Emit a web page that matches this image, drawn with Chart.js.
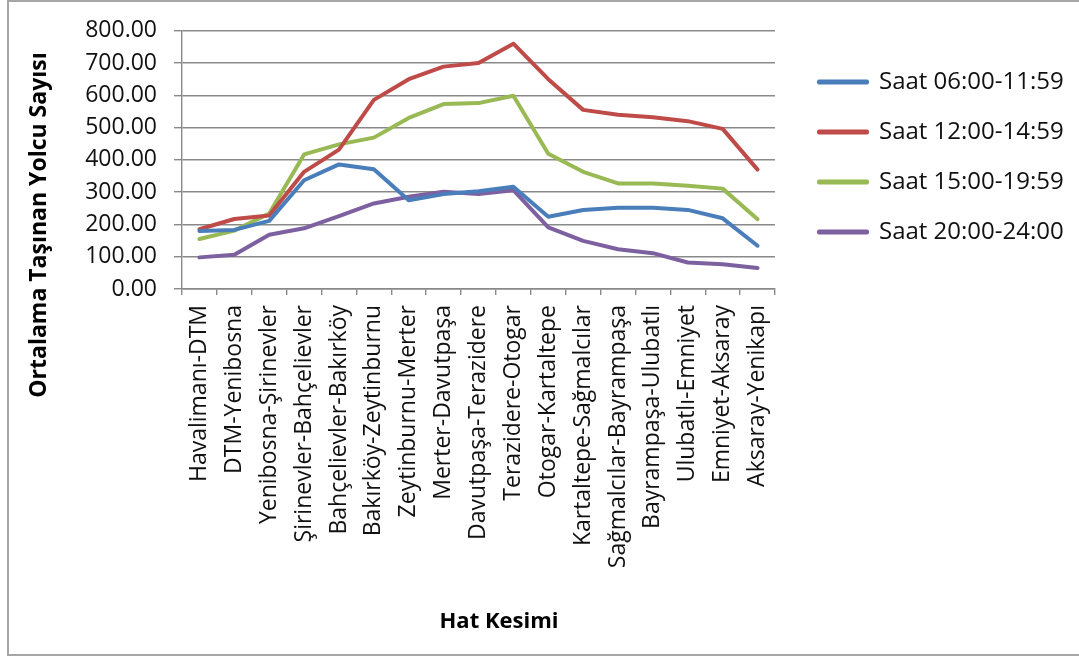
<!DOCTYPE html>
<html>
<head>
<meta charset="utf-8">
<script src="https://cdn.jsdelivr.net/npm/chart.js@4"></script>
<style>
  html, body { margin: 0; padding: 0; background: #fff; overflow: hidden; }
  #frame { position: absolute; left: 7px; top: 0; width: 1100px; height: 652px; border: 2px solid #a6a6a6; border-right: none; }
  #wrap { position: absolute; left: 0; top: 0; width: 1079px; height: 657px; }
</style>
</head>
<body>
<div id="frame"></div>
<div id="wrap"><canvas id="chart"></canvas></div>
<script>
// --- data ---
const categories = [
  "Havalimanı-DTM", "DTM-Yenibosna", "Yenibosna-Şirinevler", "Şirinevler-Bahçelievler",
  "Bahçelievler-Bakırköy", "Bakırköy-Zeytinburnu", "Zeytinburnu-Merter", "Merter-Davutpaşa",
  "Davutpaşa-Terazidere", "Terazidere-Otogar", "Otogar-Kartaltepe", "Kartaltepe-Sağmalcılar",
  "Sağmalcılar-Bayrampaşa", "Bayrampaşa-Ulubatlı", "Ulubatlı-Emniyet", "Emniyet-Aksaray",
  "Aksaray-Yenikapı"
];
const seriesNames = ["Saat 06:00-11:59", "Saat 12:00-14:59", "Saat 15:00-19:59", "Saat 20:00-24:00"];
const morning = [180, 183, 211, 337, 386, 371, 275, 294, 303, 317, 224, 245, 252, 252, 245, 219, 134];
const noon    = [185, 217, 228, 363, 432, 586, 650, 689, 700, 760, 650, 555, 540, 532, 520, 496, 370];
const evening = [155, 181, 234, 417, 448, 469, 530, 573, 576, 599, 419, 363, 327, 327, 320, 311, 216];
const night   = [98, 106, 168, 188, 226, 265, 286, 301, 294, 306, 191, 149, 123, 111, 82, 77, 65];
const yTickValues = [0, 100, 200, 300, 400, 500, 600, 700, 800];
const yTitle = "Ortalama Taşınan Yolcu Sayısı";
const xTitle = "Hat Kesimi";

const colors = ["#4a7ebb", "#be4b48", "#98b954", "#7d60a0"];
const gridColor = "#898989";

Chart.defaults.font.family = "'Open Sans', sans-serif";
Chart.defaults.color = "#111";

// axis titles sit where Excel put them, not where Chart.js centres them
const axisTitles = {
  id: "axisTitles",
  afterDraw(chart) {
    const { ctx } = chart;
    ctx.save();
    ctx.fillStyle = "#000";
    ctx.textAlign = "center";
    ctx.textBaseline = "middle";
    ctx.font = "bold 22px 'Open Sans', sans-serif";
    ctx.fillText(xTitle, 499, 622);
    ctx.font = "bold 23px 'Open Sans', sans-serif";
    ctx.translate(39, 225);
    ctx.rotate(-Math.PI / 2);
    ctx.fillText(yTitle, 0, 0);
    ctx.restore();
  }
};

// move the legend block to its spot on the right
const legendSpot = {
  id: "legendSpot",
  afterLayout(chart) {
    const lg = chart.legend;
    const pad = lg.options.labels.padding;
    lg.left = 819 - pad;
    lg.right = chart.width;
    lg.top = 70 - pad;
    lg.bottom = chart.height;
  }
};

const series = [morning, noon, evening, night];

new Chart(document.getElementById("chart"), {
  type: "line",
  data: {
    labels: categories,
    datasets: series.map((values, i) => ({
      label: seriesNames[i],
      data: values,
      borderColor: colors[i],
      backgroundColor: colors[i],
      borderWidth: 4,
      borderJoinStyle: "round",
      borderCapStyle: "round",
      pointRadius: 0,
      pointHoverRadius: 0,
      tension: 0,
      fill: false,
    })),
  },
  options: {
    responsive: true,
    maintainAspectRatio: false,
    animation: false,
    devicePixelRatio: 1,
    layout: { padding: { left: 0, top: 30, right: 54, bottom: 0 } },
    plugins: {
      legend: {
        position: "right",
        align: "start",
        maxWidth: 250,
        labels: {
          boxWidth: 48,
          boxHeight: 1,
          padding: 26,
          color: "#111",
          font: { size: 24 },
        },
      },
      tooltip: { enabled: false },
    },
    scales: {
      x: {
        offset: true,
        grid: {
          offset: true,
          drawOnChartArea: false,
          drawTicks: true,
          tickLength: 6,
          color: gridColor,
          lineWidth: 1.4,
        },
        border: { display: true, color: gridColor, width: 1.4 },
        ticks: {
          autoSkip: false,
          maxRotation: 90,
          minRotation: 90,
          padding: 10,
          font: { size: 23 },
        },
        afterFit: (scale) => { scale.height = 368; },
      },
      y: {
        min: 0,
        max: 800,
        afterBuildTicks: (scale) => { scale.ticks = yTickValues.map((v) => ({ value: v })); },
        grid: {
          color: gridColor,
          lineWidth: 1.4,
          drawTicks: true,
          tickLength: 8,
        },
        border: { display: true, color: gridColor, width: 1.4 },
        ticks: {
          padding: 17,
          font: { size: 23 },
          callback: (v) => Number(v).toFixed(2),
        },
        afterFit: (scale) => { scale.width = 182; },
      },
    },
  },
  plugins: [axisTitles, legendSpot],
});
</script>
</body>
</html>
